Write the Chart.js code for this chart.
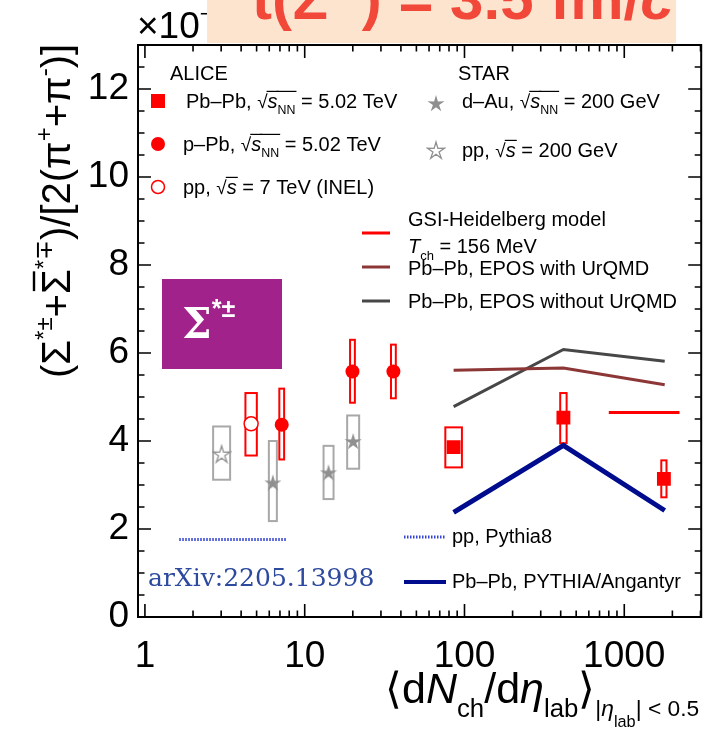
<!DOCTYPE html>
<html>
<head>
<meta charset="utf-8">
<script src="https://cdn.jsdelivr.net/npm/chart.js@4.4.1/dist/chart.umd.min.js"></script>
<style>
  body { margin: 0; background: #fff; }
  canvas { display: block; }
</style>
</head>
<body>
<canvas id="ratio-chart" width="711" height="733"></canvas>
<script>
const FONT = '"Liberation Sans", Arial, sans-serif';

// ALICE Pb-Pb 5.02 TeV
const pbpbX = [85.5, 416, 1770];
const pbpbY = [3.86, 4.53, 3.14];
const pbpbSysLo = [3.40, 3.95, 2.72];
const pbpbSysHi = [4.31, 5.09, 3.56];
// ALICE p-Pb 5.02 TeV
const ppbX = [7.18, 19.9, 35.9];
const ppbY = [4.37, 5.58, 5.58];
const ppbSysLo = [3.58, 4.87, 4.97];
const ppbSysHi = [5.19, 6.30, 6.19];
// ALICE pp 7 TeV (INEL)
const pp7X = [4.62];
const pp7Y = [4.39];
const pp7SysLo = [3.67];
const pp7SysHi = [5.09];
// STAR d-Au 200 GeV
const dauX = [6.32, 14.1, 20.1];
const dauY = [3.06, 3.29, 4.00];
const dauSysLo = [2.18, 2.68, 3.37];
const dauSysHi = [4.00, 3.89, 4.58];
// STAR pp 200 GeV
const pp200X = [3.02];
const pp200Y = [3.71];
const pp200SysLo = [3.12];
const pp200SysHi = [4.33];

// model curves
const modelX = [85.5, 416, 1791];
const eposWithY = [5.61, 5.66, 5.28];
const eposWithoutY = [4.78, 6.08, 5.81];
const angantyrY = [2.38, 3.90, 2.42];
const gsiX = [800, 2217];
const gsiY = [4.65, 4.65];
const pythia8X = [1.64, 7.7];
const pythia8Y = [1.76, 1.76];

const xTickValues = [1, 10, 100, 1000];
const yTickValues = [0, 2, 4, 6, 8, 10, 12];

const RED = '#ff0000';
const STARGRAY = '#8f8f8f';
const BOXGRAY = '#a8a8a8';
const EPOS_WITH = '#8c3636';
const EPOS_WITHOUT = '#474747';
const NAVY = '#000c8e';
const PY8BLUE = '#3344d0';

function pts(xs, ys) {
    return xs.map((x, i) => ({ x: x, y: ys[i] }));
}

function makeStar(size, filled, color) {
    const c = document.createElement('canvas');
    c.width = size; c.height = size;
    const g = c.getContext('2d');
    const r = size / 2 - 1, ri = r * 0.36, cx = size / 2, cy = size / 2 + 1;
    g.beginPath();
    for (let k = 0; k < 10; k++) {
        const a = -Math.PI / 2 + k * Math.PI / 5;
        const rr = k % 2 === 0 ? r : ri;
        g.lineTo(cx + rr * Math.cos(a), cy + rr * Math.sin(a));
    }
    g.closePath();
    if (filled) {
        g.fillStyle = color; g.fill();
    } else {
        g.fillStyle = '#fff'; g.fill();
        g.strokeStyle = color; g.lineWidth = 1.3; g.stroke();
    }
    return c;
}
const filledStar = makeStar(20, true, STARGRAY);
const openStar = makeStar(20, false, STARGRAY);

// systematic boxes: half widths in pixels
const sysBoxes = [
    { x: pp200X, lo: pp200SysLo, hi: pp200SysHi, half: [8.5], color: BOXGRAY },
    { x: dauX, lo: dauSysLo, hi: dauSysHi, half: [4, 5, 6], color: BOXGRAY },
    { x: pp7X, lo: pp7SysLo, hi: pp7SysHi, half: [5.7], color: RED },
    { x: ppbX, lo: ppbSysLo, hi: ppbSysHi, half: [2.4, 2.4, 2.4], color: RED },
    { x: pbpbX, lo: pbpbSysLo, hi: pbpbSysHi, half: [8.3, 3.2, 2.6], color: RED }
];

// draws a row of text pieces; each piece may be scaled, shifted, italic, overlined
function drawRuns(ctx, x, y, base, runs) {
    let cx = x;
    for (const r of runs) {
        const size = base * (r.s || 1);
        ctx.font = (r.i ? 'italic ' : '') + (r.b ? 'bold ' : '') + size.toFixed(1) + 'px ' + (r.f || FONT);
        const yy = y + (r.dy || 0) * base;
        ctx.fillText(r.t, cx, yy);
        const w = ctx.measureText(r.t).width;
        if (r.ov) {
            ctx.fillRect(cx - 1, y - base * 0.86, w + 2, Math.max(1, base * 0.06));
        }
        if (r.bar) {
            ctx.fillRect(cx + w * 0.12, yy - size * 0.93, w * 0.8, Math.max(1.2, size * 0.06));
        }
        cx += w + (r.gap || 0);
    }
    return cx;
}

function sqrtRuns(sub) {
    const runs = [{ t: '\u221A', s: 0.95 }, { t: 's', i: true, ov: true }];
    if (sub) runs.push({ t: sub, s: 0.62, dy: 0.28, ov: true });
    return runs;
}

const framePlugin = {
    id: 'frame',
    beforeDatasetsDraw(chart) {
        const ctx = chart.ctx;
        const xs = chart.scales.x, ys = chart.scales.y;
        ctx.save();
        ctx.lineWidth = 2;
        for (const b of sysBoxes) {
            ctx.strokeStyle = b.color;
            b.x.forEach((xv, i) => {
                const px = xs.getPixelForValue(xv);
                const top = ys.getPixelForValue(b.hi[i]);
                const bot = ys.getPixelForValue(b.lo[i]);
                ctx.strokeRect(px - b.half[i], top, b.half[i] * 2, bot - top);
            });
        }
        ctx.restore();
    },
    afterDraw(chart) {
        const ctx = chart.ctx;
        const a = chart.chartArea;
        const xs = chart.scales.x, ys = chart.scales.y;
        ctx.save();
        ctx.strokeStyle = '#000';
        ctx.lineWidth = 2;
        ctx.strokeRect(a.left, a.top, a.right - a.left, a.bottom - a.top);

        // ticks on all four sides, pointing inward
        ctx.lineWidth = 1.6;
        ctx.beginPath();
        for (let d = 1; d <= 1000; d *= 10) {
            for (let m = 1; m <= 9; m++) {
                const v = d * m;
                if (v < xs.min || v > xs.max) continue;
                const px = xs.getPixelForValue(v);
                const len = m === 1 ? 13 : 6.5;
                ctx.moveTo(px, a.bottom); ctx.lineTo(px, a.bottom - len);
                ctx.moveTo(px, a.top); ctx.lineTo(px, a.top + len);
            }
        }
        for (let v = 0; v <= 13; v += 0.5) {
            const py = ys.getPixelForValue(v);
            const len = v % 2 === 0 ? 13 : 6.5;
            ctx.moveTo(a.left, py); ctx.lineTo(a.left + len, py);
            ctx.moveTo(a.right, py); ctx.lineTo(a.right - len, py);
        }
        ctx.stroke();

        // scale factor above the axis, partly hidden by the banner
        ctx.fillStyle = '#000';
        ctx.textBaseline = 'alphabetic';
        drawRuns(ctx, 137, 38, 37, [{ t: '\u00D710' }, { t: '\u22123', s: 0.6, dy: -0.45 }]);

        // banner
        ctx.fillStyle = '#fde4cf';
        ctx.fillRect(207, 0, 469, 43);
        ctx.fillStyle = '#f2483a';
        drawRuns(ctx, 252, 19, 60, [
            { t: 't(', b: true }, { t: '\u03A3', b: true }, { t: '*\u00B1', b: true, s: 0.6, dy: -0.5 },
            { t: ') = 3.5 fm/', b: true }, { t: 'c', b: true, i: true }
        ]);

        // ALICE / STAR legend
        ctx.fillStyle = '#000';
        const L = 20;
        drawRuns(ctx, 170, 80, L, [{ t: 'ALICE' }]);
        drawRuns(ctx, 458, 80, L, [{ t: 'STAR' }]);

        ctx.fillStyle = RED;
        ctx.fillRect(151, 94, 14, 14);
        ctx.beginPath(); ctx.arc(158, 144, 7, 0, Math.PI * 2); ctx.fill();
        ctx.strokeStyle = RED; ctx.lineWidth = 1.5;
        ctx.beginPath(); ctx.arc(158, 187, 6.5, 0, Math.PI * 2); ctx.stroke();
        ctx.drawImage(filledStar, 426, 93);
        ctx.drawImage(openStar, 426, 140);

        ctx.fillStyle = '#000';
        drawRuns(ctx, 186, 108, L, [{ t: 'Pb\u2013Pb, ' }, ...sqrtRuns('NN'), { t: ' = 5.02 TeV' }]);
        drawRuns(ctx, 183, 151, L, [{ t: 'p\u2013Pb, ' }, ...sqrtRuns('NN'), { t: ' = 5.02 TeV' }]);
        drawRuns(ctx, 183, 194, L, [{ t: 'pp, ' }, ...sqrtRuns(), { t: ' = 7 TeV (INEL)' }]);
        drawRuns(ctx, 462, 108, L, [{ t: 'd\u2013Au, ' }, ...sqrtRuns('NN'), { t: ' = 200 GeV' }]);
        drawRuns(ctx, 462, 157, L, [{ t: 'pp, ' }, ...sqrtRuns(), { t: ' = 200 GeV' }]);

        // model legend
        const lineKey = (x0, x1, y, color, w, dash) => {
            ctx.save();
            ctx.strokeStyle = color; ctx.lineWidth = w;
            if (dash) ctx.setLineDash(dash);
            ctx.beginPath(); ctx.moveTo(x0, y); ctx.lineTo(x1, y); ctx.stroke();
            ctx.restore();
        };
        lineKey(362, 390, 233, RED, 3);
        lineKey(362, 390, 267, EPOS_WITH, 3);
        lineKey(362, 390, 301, EPOS_WITHOUT, 3);
        drawRuns(ctx, 408, 226, L, [{ t: 'GSI-Heidelberg model' }]);
        drawRuns(ctx, 408, 253, L, [{ t: 'T', i: true }, { t: 'ch', s: 0.65, dy: 0.35 }, { t: ' = 156 MeV' }]);
        drawRuns(ctx, 408, 275, L, [{ t: 'Pb\u2013Pb, EPOS with UrQMD' }]);
        drawRuns(ctx, 408, 308, L, [{ t: 'Pb\u2013Pb, EPOS without UrQMD' }]);

        lineKey(404, 446, 537, PY8BLUE, 3, [1.5, 1.5]);
        lineKey(404, 446, 582, NAVY, 4);
        drawRuns(ctx, 452, 543, 20, [{ t: 'pp, Pythia8' }]);
        drawRuns(ctx, 452, 588, 20, [{ t: 'Pb\u2013Pb, PYTHIA/Angantyr' }]);

        // arXiv reference
        ctx.fillStyle = '#2e4a9e';
        drawRuns(ctx, 148, 586, 25, [{ t: 'arXiv:2205.13998', f: '"DejaVu Serif", serif' }]);

        // particle tag
        ctx.fillStyle = '#a1228a';
        ctx.fillRect(162, 279, 120, 90);
        ctx.fillStyle = '#fff';
        drawRuns(ctx, 182, 338, 42, [{ t: '\u03A3', b: true, f: '"DejaVu Serif", serif' }, { t: '*\u00B1', b: true, s: 0.6, dy: -0.5 }]);

        // axis titles
        ctx.fillStyle = '#000';
        drawRuns(ctx, 385, 703, 43, [
            { t: '\u27E8d' }, { t: 'N', i: true }, { t: 'ch', s: 0.6, dy: 0.33 },
            { t: '/d' }, { t: '\u03B7', i: true }, { t: 'lab', s: 0.6, dy: 0.33 }, { t: '\u27E9' },
            { t: '|', s: 0.53, dy: 0.3 }, { t: '\u03B7', i: true, s: 0.53, dy: 0.3 },
            { t: 'lab', s: 0.38, dy: 0.55 }, { t: '| < 0.5', s: 0.53, dy: 0.3 }
        ]);

        ctx.translate(70, 378);
        ctx.rotate(-Math.PI / 2);
        drawRuns(ctx, 0, 0, 40, [
            { t: '(\u03A3' }, { t: '*\u00B1', s: 0.6, dy: -0.45 },
            { t: '+' }, { t: '\u03A3', bar: true }, { t: '*\u2213', s: 0.6, dy: -0.45 },
            { t: ')/[2(\u03C0' }, { t: '+', s: 0.6, dy: -0.45 }, { t: '+\u03C0' }, { t: '-', s: 0.6, dy: -0.45 }, { t: ')]' }
        ]);
        ctx.restore();
    }
};

const ctx = document.getElementById('ratio-chart').getContext('2d');

new Chart(ctx, {
    type: 'scatter',
    data: {
        datasets: [
            {
                label: 'Pb-Pb 5.02 TeV', data: pts(pbpbX, pbpbY),
                pointStyle: 'rect', pointRadius: 9.8, backgroundColor: RED, borderColor: RED, borderWidth: 0
            },
            {
                label: 'p-Pb 5.02 TeV', data: pts(ppbX, ppbY),
                pointStyle: 'circle', pointRadius: 7, backgroundColor: RED, borderColor: RED, borderWidth: 0
            },
            {
                label: 'pp 7 TeV', data: pts(pp7X, pp7Y),
                pointStyle: 'circle', pointRadius: 7, backgroundColor: '#fff', borderColor: RED, borderWidth: 1.5
            },
            {
                label: 'd-Au 200 GeV', data: pts(dauX, dauY),
                pointStyle: filledStar
            },
            {
                label: 'pp 200 GeV', data: pts(pp200X, pp200Y),
                pointStyle: openStar
            },
            {
                label: 'GSI-Heidelberg', data: pts(gsiX, gsiY), showLine: true,
                borderColor: RED, borderWidth: 3, pointRadius: 0
            },
            {
                label: 'EPOS with UrQMD', data: pts(modelX, eposWithY), showLine: true,
                borderColor: EPOS_WITH, borderWidth: 3, pointRadius: 0
            },
            {
                label: 'EPOS without UrQMD', data: pts(modelX, eposWithoutY), showLine: true,
                borderColor: EPOS_WITHOUT, borderWidth: 3, pointRadius: 0
            },
            {
                label: 'PYTHIA/Angantyr', data: pts(modelX, angantyrY), showLine: true,
                borderColor: NAVY, borderWidth: 5, pointRadius: 0
            },
            {
                label: 'Pythia8', data: pts(pythia8X, pythia8Y), showLine: true,
                borderColor: PY8BLUE, borderWidth: 3, borderDash: [1.5, 1.5], pointRadius: 0
            }
        ]
    },
    options: {
        responsive: false,
        animation: false,
        layout: { padding: { top: 45, right: 5, left: 0, bottom: 0 } },
        plugins: { legend: { display: false }, tooltip: { enabled: false } },
        scales: {
            x: {
                type: 'logarithmic', min: 0.905, max: 3030,
                grid: { display: false, drawTicks: false },
                border: { display: false },
                afterBuildTicks: (s) => { s.ticks = xTickValues.map(v => ({ value: v })); },
                afterFit: (s) => { s.height = 116; },
                ticks: {
                    autoSkip: false, maxRotation: 0, padding: 18, color: '#000',
                    font: { family: FONT, size: 37 },
                    callback: (v) => String(v)
                }
            },
            y: {
                min: 0, max: 13,
                grid: { display: false, drawTicks: false },
                border: { display: false },
                afterBuildTicks: (s) => { s.ticks = yTickValues.map(v => ({ value: v })); },
                afterFit: (s) => { s.width = 138; },
                ticks: {
                    padding: 9, color: '#000',
                    font: { family: FONT, size: 37 }
                }
            }
        }
    },
    plugins: [framePlugin]
});
</script>
</body>
</html>
